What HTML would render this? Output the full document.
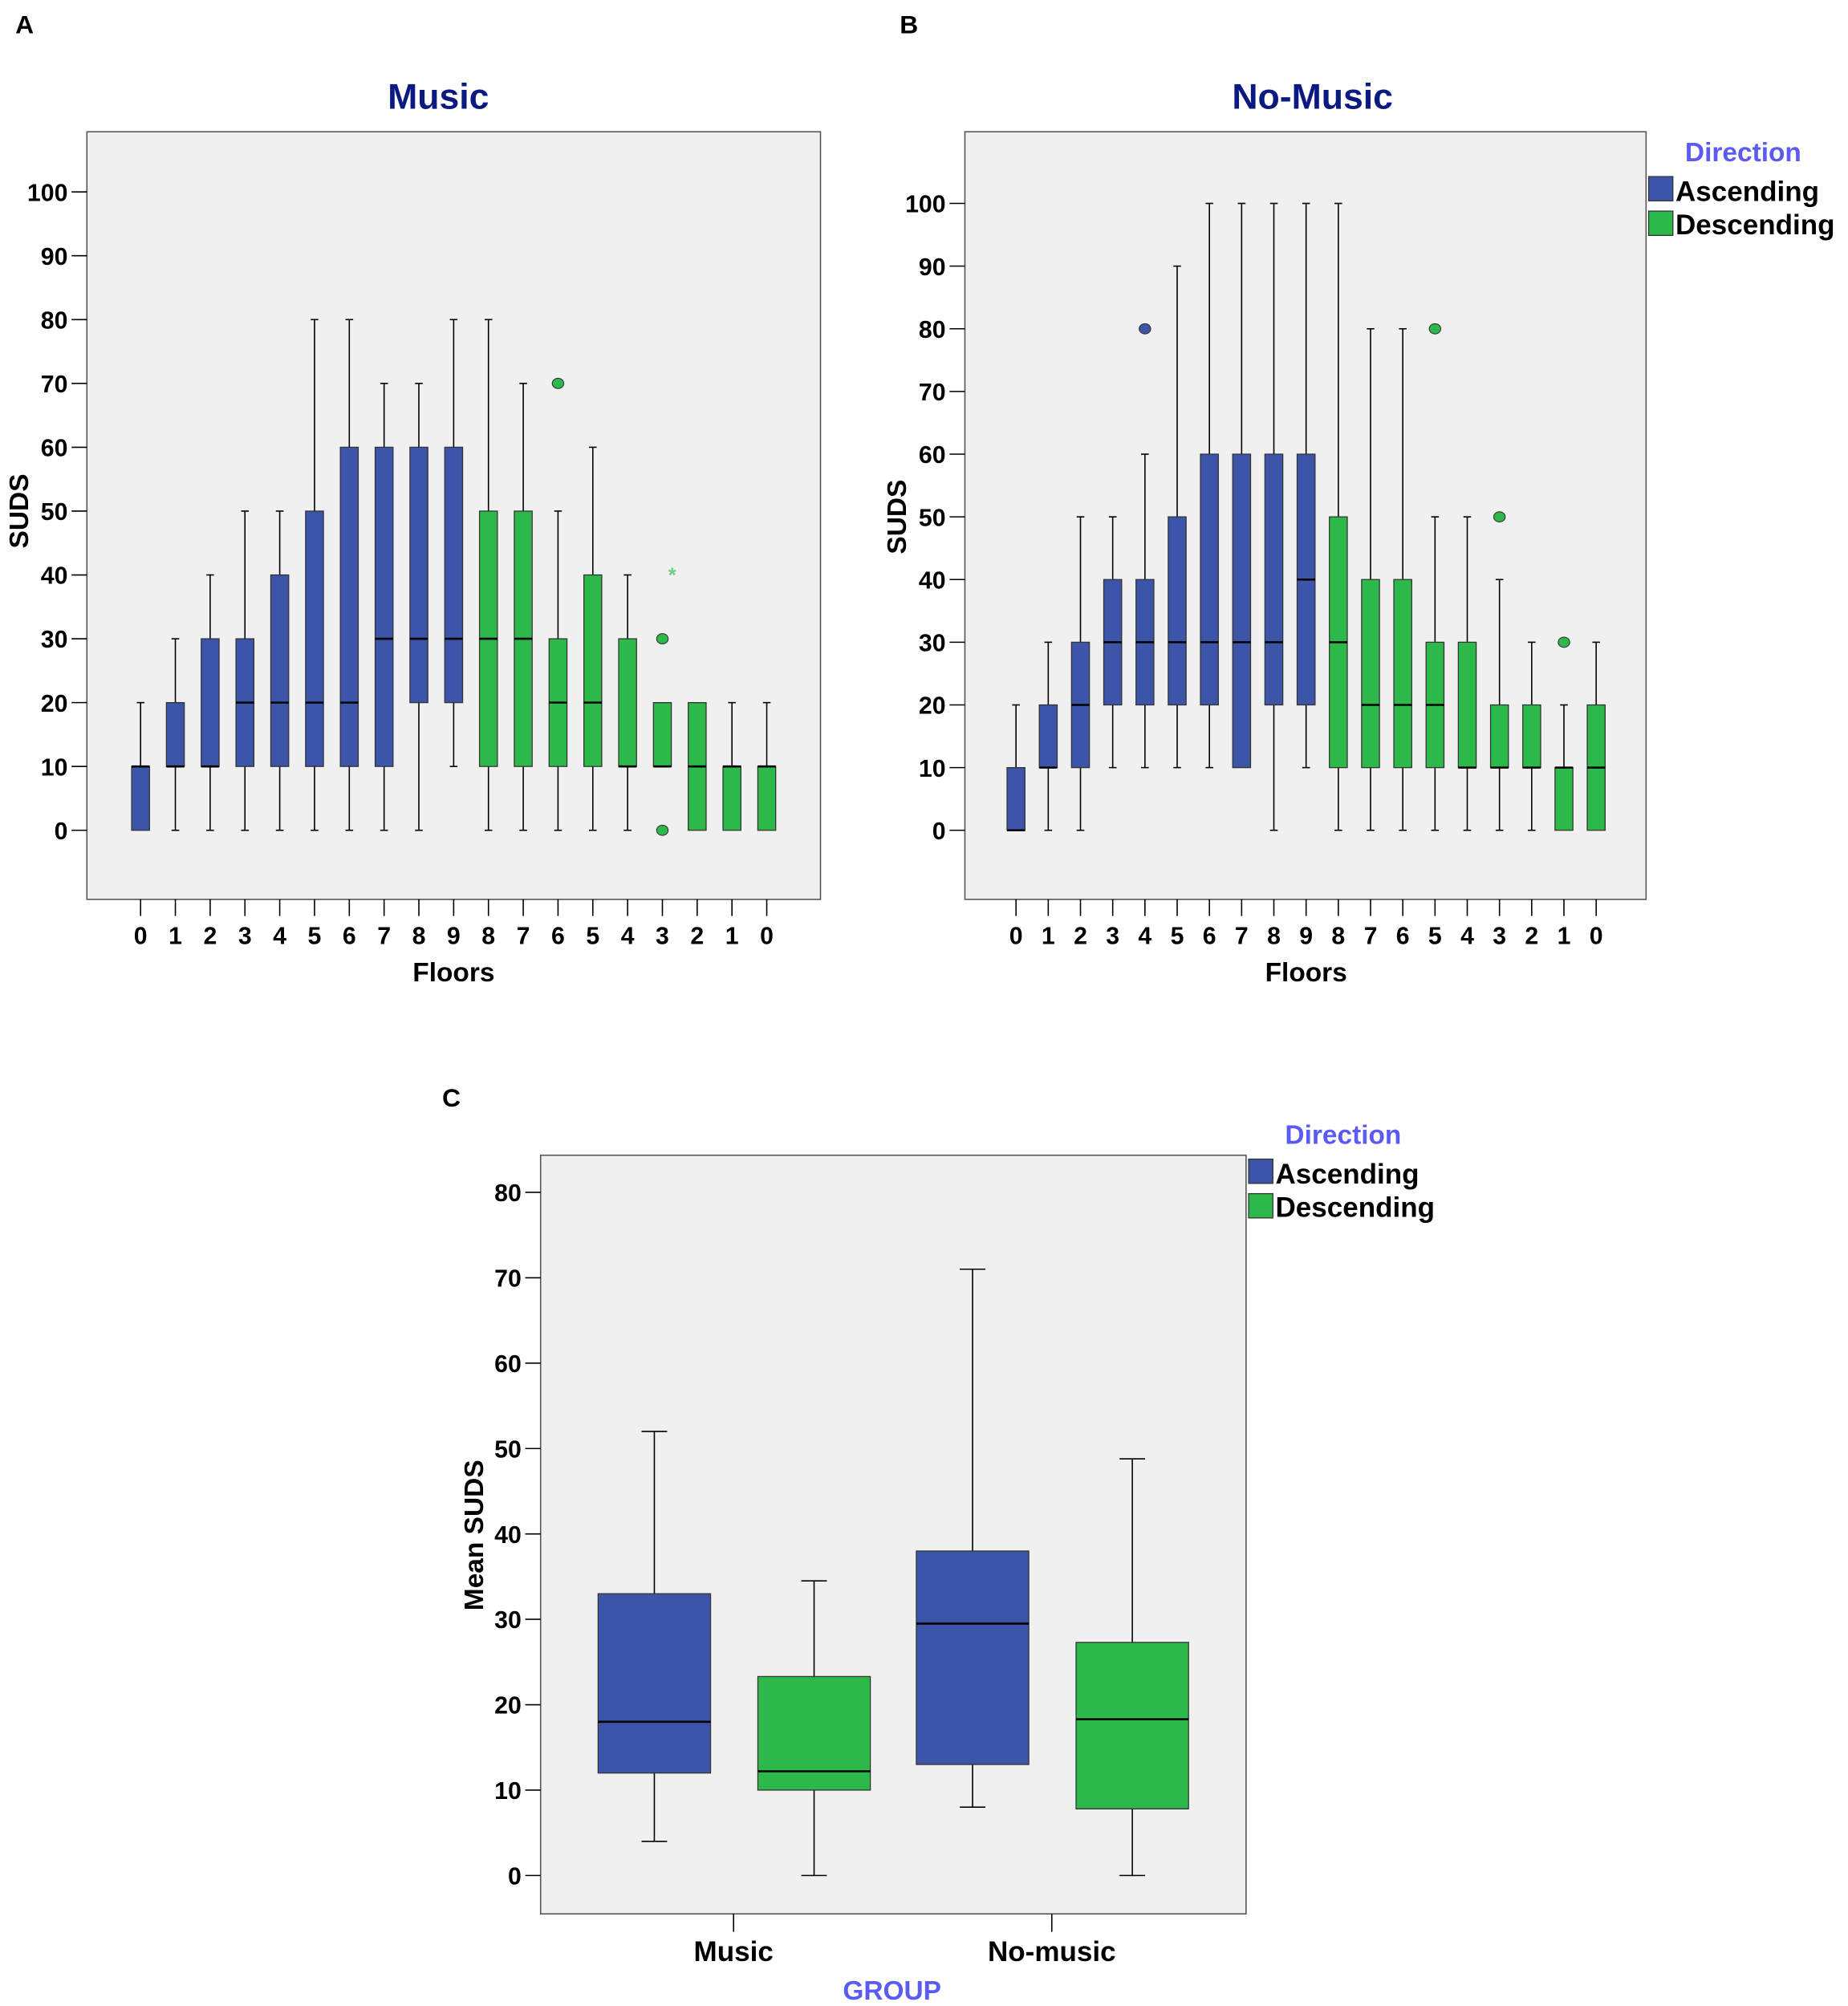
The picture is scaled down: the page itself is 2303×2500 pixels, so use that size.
<!DOCTYPE html>
<html><head><meta charset="utf-8"><style>
html,body{margin:0;padding:0;background:#fff;}
svg{display:block;}
text{font-family:"Liberation Sans",Arial,sans-serif;font-weight:bold;}
</style></head><body>
<svg id="s" width="2303" height="2500" viewBox="0 0 1446 1568" preserveAspectRatio="none" xmlns="http://www.w3.org/2000/svg"></svg>
<script>
var s=document.getElementById('s'),o='';
var B='#3c55a8',G='#2db84a';
function t(x,y,str,sz,anc,col,extra){o+='<text x="'+x+'" y="'+y+'" font-size="'+sz+'" text-anchor="'+(anc||'middle')+'" fill="'+(col||'#000')+'" '+(extra||'')+'>'+str+'</text>';}
function l(x1,y1,x2,y2,w){o+='<line x1="'+x1+'" y1="'+y1+'" x2="'+x2+'" y2="'+y2+'" stroke="#000" stroke-width="'+(w||1)+'"/>';}
function box(x,hw,Y,d,col,cap){
 var c=cap||3;
 if(d[0]!=null&&d[0]<d[2]){l(x,Y(d[0]),x,Y(d[2]));l(x-c,Y(d[0]),x+c,Y(d[0]));}
 if(d[1]!=null&&d[1]>d[3]){l(x,Y(d[1]),x,Y(d[3]));l(x-c,Y(d[1]),x+c,Y(d[1]));}
 o+='<rect x="'+(x-hw)+'" y="'+Y(d[3])+'" width="'+(2*hw)+'" height="'+(Y(d[2])-Y(d[3]))+'" fill="'+col+'" stroke="#333" stroke-width="0.8"/>';
 l(x-hw,Y(d[4]),x+hw,Y(d[4]),1.6);
}
function dot(x,y,col){o+='<ellipse cx="'+x+'" cy="'+y+'" rx="4.5" ry="4" fill="'+col+'" stroke="#333" stroke-width="0.7"/>';}
function panel(x0,x1,y0,y1,y0v,y100,f0,step,data,title,tx,letter,lx,fx){
 o+='<rect x="'+x0+'" y="'+y0+'" width="'+(x1-x0)+'" height="'+(y1-y0)+'" fill="#f0f0f0" stroke="#555" stroke-width="1"/>';
 var Y=function(v){return y0v+(y100-y0v)*v/100;};
 for(var v=0;v<=100;v+=10){l(x0-12,Y(v),x0,Y(v));t(x0-15,Y(v)+7,v,19,'end');}
 var labs=[0,1,2,3,4,5,6,7,8,9,8,7,6,5,4,3,2,1,0];
 for(var i=0;i<19;i++){var x=f0+i*step;l(x,y1,x,y1+13);t(x,y1+35,labs[i],19);
  var d=data[i];box(x,7,Y,d,i<10?B:G);
  if(d[5])d[5].forEach(function(p){dot(x,Y(p),i<10?B:G);});
 }
 t(tx,85,title,28,'middle','#0b1a80');
 t(fx,767,'Floors',21);
 t(0,0,'SUDS',21,'middle','#000','transform="translate('+(x0-46)+','+(y0v+y100)/2+') rotate(-90)"');
 t(lx,26,letter,20,'start');
}
var A=[[null,20,0,10,10],[0,30,10,20,10],[0,40,10,30,10],[0,50,10,30,20],[0,50,10,40,20],[0,80,10,50,20],[0,80,10,60,20],[0,70,10,60,30],[0,70,20,60,30],[10,80,20,60,30],
[0,80,10,50,30],[0,70,10,50,30],[0,50,10,30,20,[70]],[0,60,10,40,20],[0,40,10,30,10],[null,null,10,20,10,[30,0]],[null,null,0,20,10],[null,20,0,10,10],[null,20,0,10,10]];
var Bd=[[null,20,0,10,0],[0,30,10,20,10],[0,50,10,30,20],[10,50,20,40,30],[10,60,20,40,30,[80]],[10,90,20,50,30],[10,100,20,60,30],[null,100,10,60,30],[0,100,20,60,30],[10,100,20,60,40],
[0,100,10,50,30],[0,80,10,40,20],[0,80,10,40,20],[0,50,10,30,20,[80]],[0,50,10,30,10],[0,40,10,20,10,[50]],[0,30,10,20,10],[null,20,0,10,10,[30]],[null,30,0,20,10]];
panel(68,642,103,703,649,150,110,27.22,A,'Music',343,'A',12,355);
o+='<text x="526" y="455" font-size="16" fill="#6fcf80" text-anchor="middle" font-weight="normal">*</text>';
panel(755,1288,103,703,649,159,795,25.22,Bd,'No-Music',1027,'B',704,1022);
function legend(x,y){
 t(x+75,y,'Direction',21,'middle','#5a5af5');
 o+='<rect x="'+(x+1)+'" y="'+(y+12)+'" width="19" height="19" fill="'+B+'" stroke="#333" stroke-width="0.8"/>';
 o+='<rect x="'+(x+1)+'" y="'+(y+39)+'" width="19" height="19" fill="'+G+'" stroke="#333" stroke-width="0.8"/>';
 t(x+22,y+31,'Ascending',22,'start');t(x+22,y+57,'Descending',22,'start');
}
legend(1289,126);
var cx0=423,cx1=975,cy0=903,cy1=1496;
o+='<rect x="'+cx0+'" y="'+cy0+'" width="'+(cx1-cx0)+'" height="'+(cy1-cy0)+'" fill="#f0f0f0" stroke="#555" stroke-width="1"/>';
var YC=function(v){return 1466-v*6.675;};
for(var v=0;v<=80;v+=10){l(cx0-12,YC(v),cx0,YC(v));t(cx0-15,YC(v)+7,v,19,'end');}
box(512,44,YC,[4,52,12,33,18],B,10);
box(637,44,YC,[0,34.5,10,23.3,12.2],G,10);
box(761,44,YC,[8,71,13,38,29.5],B,10);
box(886,44,YC,[0,48.8,7.8,27.3,18.3],G,10);
l(574,cy1,574,cy1+14);l(823,cy1,823,cy1+14);
t(574,1533,'Music',22);t(823,1533,'No-music',22);
t(698,1563,'GROUP',21,'middle','#5a5af5');
t(0,0,'Mean SUDS',21,'middle','#000','transform="translate(378,1200) rotate(-90)"');
t(346,865,'C',20,'start');
legend(976,894);
s.innerHTML=o;
</script>
</body></html>
